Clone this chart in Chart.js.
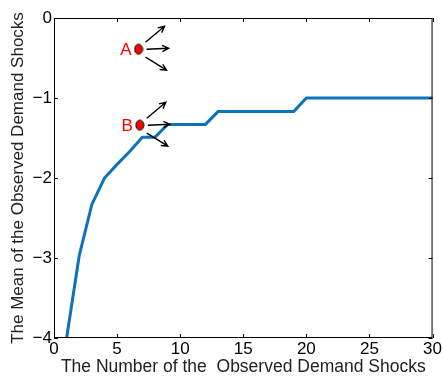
<!DOCTYPE html>
<html>
<head>
<meta charset="utf-8">
<script src="https://cdn.jsdelivr.net/npm/chart.js@4"></script>
<style>
  html, body { margin: 0; padding: 0; background: #fff; }
  #wrap { width: 443px; height: 378px; }
</style>
</head>
<body>
<div id="wrap"><canvas id="chart" width="443" height="378"></canvas></div>
<script>
// data
const shocks = [1, 2, 3, 4, 5, 6, 7, 8, 9, 10, 11, 12, 13, 14, 15, 16, 17, 18, 19, 20, 21, 22, 23, 24, 25, 26, 27, 28, 29, 30];
const meanShock = [-4, -2.97, -2.33, -2, -1.83, -1.67, -1.49, -1.49, -1.33, -1.33, -1.33, -1.33, -1.17, -1.17, -1.17, -1.17, -1.17, -1.17, -1.17, -1, -1, -1, -1, -1, -1, -1, -1, -1, -1, -1];

const markLabels = ["A", "B"];
const markX = [6.7, 6.8];
const markY = [-0.39, -1.34];

const xTicks = [0, 5, 10, 15, 20, 25, 30];
const yTicks = [-4, -3, -2, -1, 0];

const FONT = "'Liberation Sans', Arial, sans-serif";

// red ellipse used as point style
const dot = document.createElement("canvas");
dot.width = 10; dot.height = 12;
(() => {
  const c = dot.getContext("2d");
  c.beginPath();
  c.ellipse(5, 6, 4, 5, 0, 0, Math.PI * 2);
  c.fillStyle = "#ff0000";
  c.fill();
  c.lineWidth = 1;
  c.strokeStyle = "#000";
  c.stroke();
})();

const minus = (v) => String(v).replace("-", "\u2212");

// MATLAB-ish box with inward ticks, plus the arrows and letters
const boxPlugin = {
  id: "box",
  afterDraw(chart) {
    const { ctx, chartArea: a, scales } = chart;
    ctx.save();
    ctx.strokeStyle = "#000";
    ctx.lineWidth = 1;
    ctx.strokeRect(a.left + 0.5, a.top + 0.5, a.right - a.left - 1, a.bottom - a.top - 1);
    ctx.beginPath();
    xTicks.forEach((v) => {
      const px = Math.round(scales.x.getPixelForValue(v)) + 0.5;
      ctx.moveTo(px, a.bottom); ctx.lineTo(px, a.bottom - 4);
      ctx.moveTo(px, a.top); ctx.lineTo(px, a.top + 4);
    });
    yTicks.forEach((v) => {
      const py = Math.round(scales.y.getPixelForValue(v)) + 0.5;
      ctx.moveTo(a.left, py); ctx.lineTo(a.left + 4, py);
      ctx.moveTo(a.right, py); ctx.lineTo(a.right - 4, py);
    });
    ctx.stroke();

    // arrows (offsets from each marker, in px)
    const arrows = [
      [7, -7, 26, -23],
      [8, 0, 30, -1],
      [7, 8, 28, 21],
    ];
    markLabels.forEach((lab, i) => {
      const px = scales.x.getPixelForValue(markX[i]);
      const py = scales.y.getPixelForValue(markY[i]);
      ctx.strokeStyle = "#000";
      ctx.lineWidth = 1.4;
      arrows.forEach(([x0, y0, x1, y1]) => {
        const sx = px + x0, sy = py + y0, ex = px + x1, ey = py + y1;
        const ang = Math.atan2(ey - sy, ex - sx);
        ctx.beginPath();
        ctx.moveTo(sx, sy); ctx.lineTo(ex, ey);
        ctx.moveTo(ex - 7 * Math.cos(ang - 0.45), ey - 7 * Math.sin(ang - 0.45));
        ctx.lineTo(ex, ey);
        ctx.lineTo(ex - 7 * Math.cos(ang + 0.45), ey - 7 * Math.sin(ang + 0.45));
        ctx.stroke();
      });
      ctx.fillStyle = "#ff0000";
      ctx.font = "17px " + FONT;
      ctx.textAlign = "right";
      ctx.textBaseline = "middle";
      ctx.fillText(lab, px - 7, py + 1);
    });
    ctx.restore();
  },
};

new Chart(document.getElementById("chart"), {
  type: "line",
  data: {
    datasets: [
      {
        data: shocks.map((x, i) => ({ x, y: meanShock[i] })),
        borderColor: "#0b72bb",
        borderWidth: 3,
        pointRadius: 0,
        tension: 0,
        clip: false,
      },
      {
        type: "scatter",
        data: markX.map((x, i) => ({ x, y: markY[i] })),
        pointStyle: dot,
        pointRadius: 5,
      },
    ],
  },
  options: {
    responsive: false,
    animation: false,
    events: [],
    layout: { padding: { top: 18, right: 10, left: 0, bottom: 0 } },
    plugins: { legend: { display: false }, tooltip: { enabled: false } },
    scales: {
      x: {
        type: "linear",
        min: 0,
        max: 30,
        afterBuildTicks: (s) => { s.ticks = xTicks.map((v) => ({ value: v })); },
        afterFit: (s) => { s.height = 40; },
        grid: { display: false, drawTicks: false },
        border: { display: false },
        ticks: { color: "#000", font: { family: FONT, size: 17 }, padding: 1, maxRotation: 0, callback: minus },
        title: {
          display: true,
          text: "The Number of the  Observed Demand Shocks",
          color: "#222",
          font: { family: FONT, size: 17.5 },
          padding: { top: -4, bottom: 0 },
        },
      },
      y: {
        type: "linear",
        min: -4,
        max: 0,
        afterBuildTicks: (s) => { s.ticks = yTicks.map((v) => ({ value: v })); },
        afterFit: (s) => { s.width = 54; },
        grid: { display: false, drawTicks: false },
        border: { display: false },
        ticks: { color: "#000", font: { family: FONT, size: 17 }, padding: 2, callback: minus },
        title: {
          display: true,
          text: "The Mean of the Observed Demand Shocks",
          color: "#222",
          font: { family: FONT, size: 17 },
          padding: { top: 8, bottom: 0 },
        },
      },
    },
  },
  plugins: [boxPlugin],
});
</script>
</body>
</html>
